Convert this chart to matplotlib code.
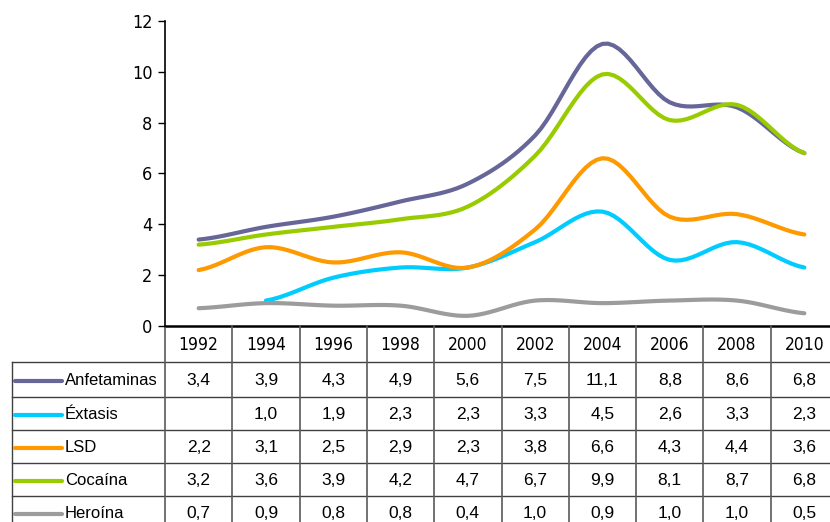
import numpy as np
import matplotlib.pyplot as plt

years = ['1992', '1994', '1996', '1998', '2000', '2002', '2004', '2006', '2008', '2010']
anfetaminas = [3.4, 3.9, 4.3, 4.9, 5.6, 7.5, 11.1, 8.8, 8.6, 6.8]
extasis = [np.nan, 1.0, 1.9, 2.3, 2.3, 3.3, 4.5, 2.6, 3.3, 2.3]
lsd = [2.2, 3.1, 2.5, 2.9, 2.3, 3.8, 6.6, 4.3, 4.4, 3.6]
cocaina = [3.2, 3.6, 3.9, 4.2, 4.7, 6.7, 9.9, 8.1, 8.7, 6.8]
heroina = [0.7, 0.9, 0.8, 0.8, 0.4, 1.0, 0.9, 1.0, 1.0, 0.5]

series = [('Anfetaminas', anfetaminas, '#666699'),
          ('Éxtasis', extasis, '#00CCFF'),
          ('LSD', lsd, '#FF9900'),
          ('Cocaína', cocaina, '#99CC00'),
          ('Heroína', heroina, '#9C9C9C')]

plain = ['Liberation Sans', 'DejaVu Sans']
cond = dict(family='DejaVu Sans', fontstretch='condensed')


def smooth(x, y, n=12):
    # catmull-rom through the points, like the spreadsheet "smoothed line"
    x = np.asarray(x, float)
    y = np.asarray(y, float)
    xs, ys = [], []
    for i in range(len(x) - 1):
        y0 = y[i - 1] if i > 0 else y[i]
        y3 = y[i + 2] if i + 2 < len(y) else y[i + 1]
        m1 = (y[i + 1] - y0) / 2
        m2 = (y3 - y[i]) / 2
        t = np.linspace(0, 1, n, endpoint=(i == len(x) - 2))
        h00 = 2 * t**3 - 3 * t**2 + 1
        h10 = t**3 - 2 * t**2 + t
        h01 = -2 * t**3 + 3 * t**2
        h11 = t**3 - t**2
        xs.append(x[i] + t * (x[i + 1] - x[i]))
        ys.append(h00 * y[i] + h10 * m1 + h01 * y[i + 1] + h11 * m2)
    return np.concatenate(xs), np.concatenate(ys)


W, H = 830, 522
fig = plt.figure(figsize=(W / 100, H / 100), dpi=100)

# pixel layout of plot and table
left, colw = 165, 67.3
top, zero = 21, 326
rows = [326, 362, 397, 430, 463, 496, 529]
right = left + colw * len(years)

ax = fig.add_axes([left / W, (H - zero) / H, (right - left) / W, (zero - top) / H])
ax.set_xlim(-0.5, len(years) - 0.5)
ax.set_ylim(0, 12)
idx = np.arange(len(years))
for name, vals, color in series:
    v = np.array(vals, float)
    ok = ~np.isnan(v)
    sx, sy = smooth(idx[ok], v[ok])
    ax.plot(sx, sy, color=color, lw=3.0, solid_capstyle='round', solid_joinstyle='round')

ax.set_yticks(range(0, 13, 2))
ax.set_yticklabels([str(t) for t in range(0, 13, 2)], fontsize=13, **cond)
ax.tick_params(axis='y', length=5, width=1, pad=4, color='black')
ax.set_xticks([])
for s in ['top', 'right', 'bottom']:
    ax.spines[s].set_visible(False)
ax.spines['left'].set_linewidth(1.2)
ax.patch.set_alpha(0)

# data table underneath
tab = fig.add_axes([0, 0, 1, 1])
tab.set_xlim(0, W)
tab.set_ylim(H, 0)
tab.axis('off')
tab.set_zorder(-1)

lc = '#404040'
tab.plot([left, right], [rows[0], rows[0]], color='black', lw=1.8)
for r in rows[1:-1]:
    tab.plot([12, right], [r, r], color=lc, lw=1.0)
tab.plot([12, 12], [rows[1], H], color=lc, lw=1.0)
for i in range(len(years) + 1):
    x = left + i * colw
    tab.plot([x, x], [rows[0], H], color='#5a5a5a', lw=1.2)

for i, yr in enumerate(years):
    cx = left + (i + 0.5) * colw
    tab.text(cx, (rows[0] + rows[1]) / 2 + 1, yr, ha='center', va='center',
             fontsize=12.5, **cond)

for j, (name, vals, color) in enumerate(series):
    cy = (rows[j + 1] + rows[j + 2]) / 2 + 1
    tab.plot([15, 62], [cy, cy], color=color, lw=3.0, solid_capstyle='round')
    tab.text(65, cy, name, ha='left', va='center', family=plain, fontsize=12)
    for i, v in enumerate(vals):
        if np.isnan(v):
            continue
        cx = left + (i + 0.5) * colw
        tab.text(cx, cy, f'{v:.1f}'.replace('.', ','), ha='center', va='center',
                 family=plain, fontsize=12.5)

fig.savefig('out.png', dpi=100)
